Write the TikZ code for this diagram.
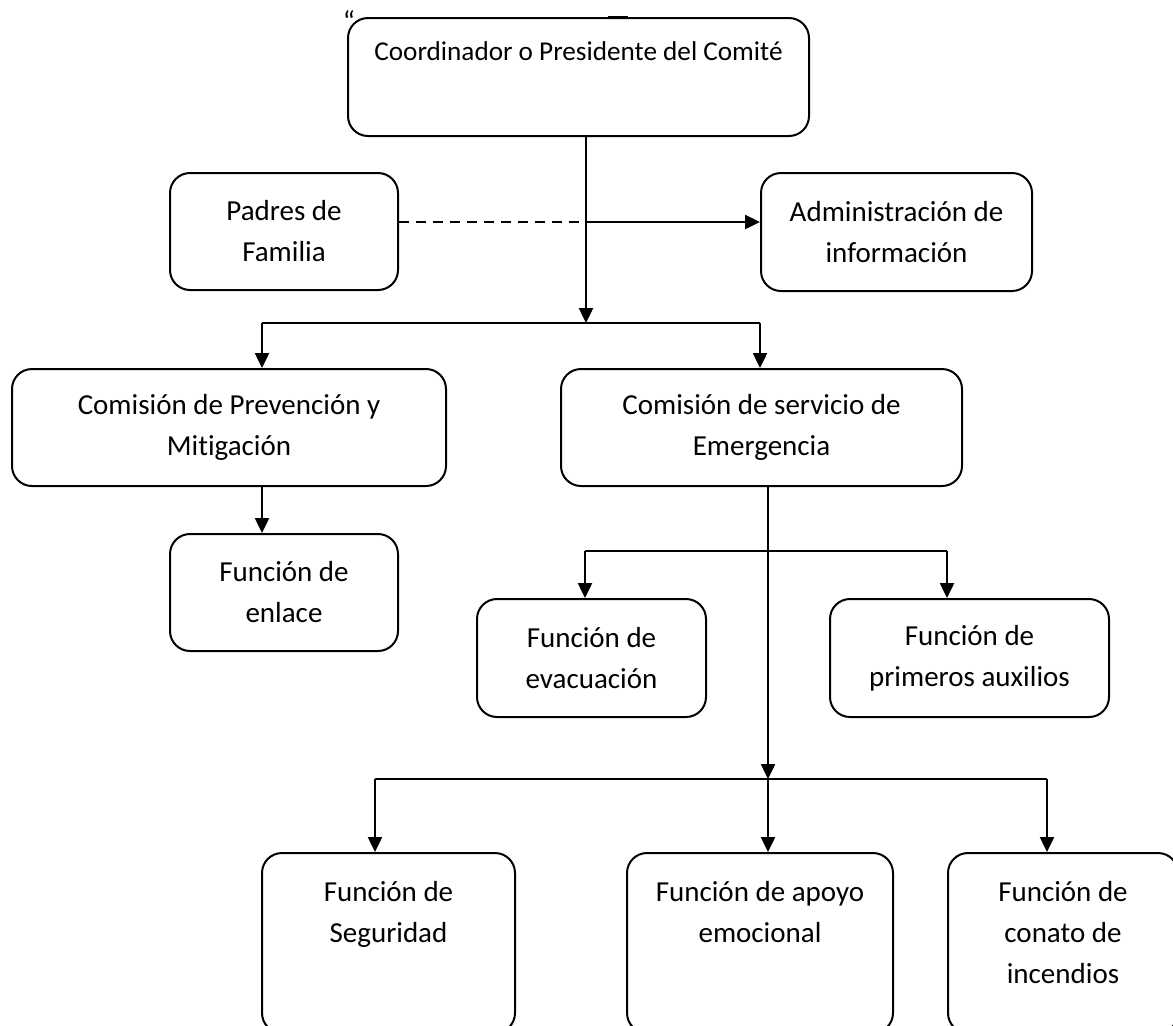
\documentclass[tikz,border=0pt]{standalone}
\usepackage{fontspec}
\setmainfont{Carlito}[Ligatures=NoCommon]
\usetikzlibrary{arrows.meta}

\tikzset{
  caja/.style={draw, line width=1pt, rounded corners=10pt, align=center, inner sep=0pt,
    font=\fontsize{14.5}{20.5}\selectfont},
  linea/.style={line width=1.2pt},
}

\begin{document}
\begin{tikzpicture}[x=0.5pt, y=-0.5pt, >={Triangle[length=7.5pt,width=7pt]}]
    \useasboundingbox (0,0) rectangle (1173,1025);

    % Comité
    \node[caja, minimum width=230.5pt, minimum height=59pt, font=\fontsize{13.6}{20.5}\selectfont] (coord) at (578.5,77) {Coordinador o Presidente del Comité\\[5pt]~};
    \node[anchor=base, inner sep=0pt, font=\fontsize{14.5}{20.5}\selectfont] (comilla) at (349,31) {“};
    \draw[line width=1.5pt] (608,17) -- (628,17);

    % Padres y administración
    \node[caja, minimum width=114pt, minimum height=58.5pt] (padres) at (284,231.5) {Padres de\\Familia};
    \node[caja, minimum width=135.5pt, minimum height=59pt] (admin) at (896.5,232) {Administración de\\información};

    % Comisiones
    \node[caja, minimum width=217pt, minimum height=58.5pt] (prev) at (229,427.5) {Comisión de Prevención y\\Mitigación};
    \node[caja, minimum width=200.5pt, minimum height=58.5pt] (emerg) at (761.5,427.5) {Comisión de servicio de\\Emergencia};
    \node[caja, minimum width=114pt, minimum height=58.5pt] (enlace) at (284,592.5) {Función de\\enlace};

    % Funciones de emergencia
    \node[caja, minimum width=114.5pt, minimum height=59pt] (evac) at (591.5,658) {Función de\\evacuación};
    \node[caja, minimum width=139.5pt, minimum height=59pt] (prim) at (969.5,658) {Función de\\primeros auxilios};
    \node[caja, minimum width=126.5pt, minimum height=90pt] (segur) at (388.5,943) {Función de\\Seguridad\\~\\[-10pt]~};
    \node[caja, minimum width=133pt, minimum height=90pt] (apoyo) at (760,943) {Función de apoyo\\emocional\\~\\[-10pt]~};
    \node[caja, minimum width=115pt, minimum height=90pt] (conato) at (1063,943) {Función de\\conato de\\incendios\\[-10pt]~};

    % Puntos de unión
    \coordinate (j1) at (586,323);
    \coordinate (jp) at (586,222);
    \coordinate (bi) at (262,323);
    \coordinate (bd) at (760,323);
    \coordinate (je) at (768,551);
    \coordinate (ei) at (585,551);
    \coordinate (ed) at (947,551);
    \coordinate (jf) at (768,779);
    \coordinate (fi) at (375,779);
    \coordinate (fd) at (1047,779);

    % Conectores
    \draw[linea, ->] (j1 |- coord.south) -- (j1);
    \draw[linea, dashed, dash pattern=on 5pt off 3.5pt] (jp -| padres.east) -- (jp);
    \draw[linea, ->] (jp) -- (jp -| admin.west);
    \draw[linea] (bi) -- (bd);
    \draw[linea, ->] (bi) -- (bi |- prev.north);
    \draw[linea, ->] (bd) -- (bd |- emerg.north);
    \draw[linea, ->] (bi |- prev.south) -- (bi |- enlace.north);
    \draw[linea, ->] (je |- emerg.south) -- (jf);
    \draw[linea] (ei) -- (ed);
    \draw[linea, ->] (ei) -- (ei |- evac.north);
    \draw[linea, ->] (ed) -- (ed |- prim.north);
    \draw[linea] (fi) -- (fd);
    \draw[linea, ->] (fi) -- (fi |- segur.north);
    \draw[linea, ->] (jf) -- (jf |- apoyo.north);
    \draw[linea, ->] (fd) -- (fd |- conato.north);
\end{tikzpicture}
\end{document}
